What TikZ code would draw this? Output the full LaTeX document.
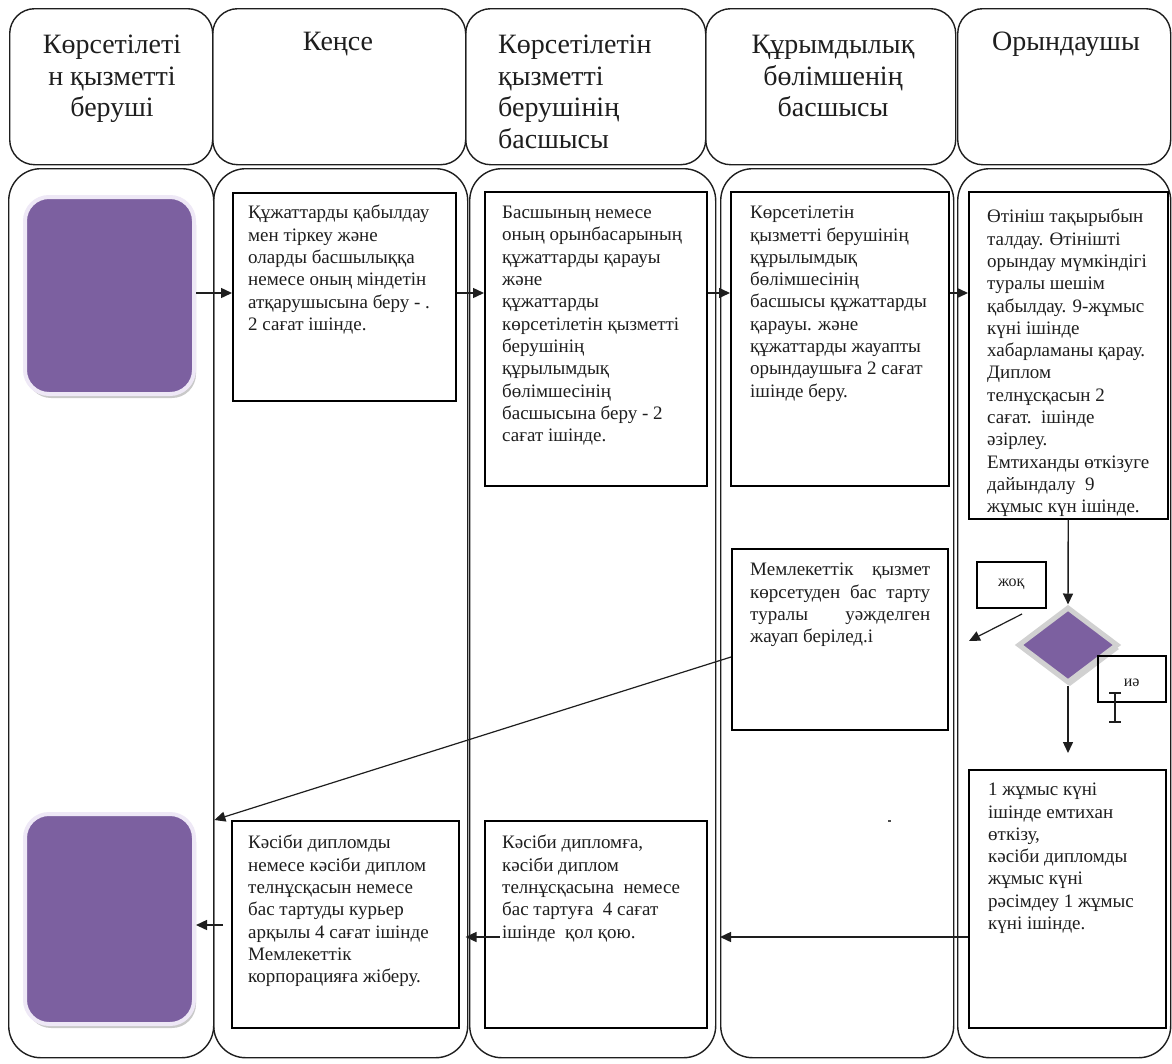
\documentclass[tikz,border=0pt]{standalone}
\usepackage{fontspec}
\setmainfont{Liberation Serif}
\usetikzlibrary{arrows.meta,shapes.geometric,shadows}
\definecolor{purp}{RGB}{124,96,160}
\definecolor{purpedge}{RGB}{238,232,246}
\definecolor{ink}{RGB}{30,30,30}
\begin{document}
\begin{tikzpicture}[x=1pt,y=-1pt,
  lane/.style={draw=ink, line width=1.4pt, rounded corners=32pt, anchor=north west, inner sep=0pt},
  hdr/.style={draw=ink, line width=1.4pt, rounded corners=25pt, anchor=north west, inner sep=0pt},
  stepbox/.style={draw=black, line width=1.5pt, anchor=north west, inner sep=0pt},
  pbox/.style={fill=purp, draw=purpedge, line width=4pt, rounded corners=24pt, anchor=north west, inner sep=0pt,
     drop shadow={shadow xshift=2pt, shadow yshift=-4pt, fill=black!35, opacity=0.6}},
  htxt/.style={font=\fontsize{28}{31.5}\selectfont, inner sep=0pt, anchor=north, text=ink},
  btxt/.style={font=\fontsize{19}{22.3}\selectfont, inner sep=0pt, anchor=north west, align=left, text=ink},
  small/.style={font=\fontsize{16}{18}\selectfont, inner sep=0pt, text=ink},
  arr/.style={-{Triangle[length=11pt,width=10pt]}, line width=1.4pt, draw=ink}
]
\useasboundingbox (0,0) rectangle (1172,1063);
\fill[white] (0,0) rectangle (1172,1063);

% headers
\node[hdr, minimum width=203pt, minimum height=156pt] (H1) at (9,8) {};
\node[hdr, minimum width=253pt, minimum height=156pt] (H2) at (212,8) {};
\node[hdr, minimum width=240pt, minimum height=156pt] (H3) at (465,8) {};
\node[hdr, minimum width=250pt, minimum height=156pt] (H4) at (705,8) {};
\node[hdr, minimum width=213pt, minimum height=156pt] (H5) at (957,8) {};

\node[htxt, align=center] (h1t) at (112,35) {Көрсетілеті\\н қызметті\\беруші};
\node[htxt, align=center] (h2t) at (338,32) {Кеңсе};
\node[htxt, align=left, anchor=north west] (h3t) at (498,35) {Көрсетілетін\\қызметті\\берушінің\\басшысы};
\node[htxt, align=center] (h4t) at (833,35) {Құрымдылық\\бөлімшенің\\басшысы};
\node[htxt, align=center] (h5t) at (1066,32) {Орындаушы};

% lanes
\node[lane, minimum width=205pt, minimum height=889pt] (L1) at (8,168) {};
\node[lane, minimum width=254pt, minimum height=889pt] (L2) at (213,168) {};
\node[lane, minimum width=246pt, minimum height=889pt] (L3) at (469,168) {};
\node[lane, minimum width=233pt, minimum height=889pt] (L4) at (720,168) {};
\node[lane, minimum width=213pt, minimum height=889pt] (L5) at (957,168) {};

% purple terminals
\node[pbox, minimum width=169pt, minimum height=197pt] (pk1) at (23,195) {};
\node[pbox, minimum width=169pt, minimum height=210pt] (pk2) at (23,812) {};

% process boxes
\node[stepbox, minimum width=223pt, minimum height=208pt] (b1) at (232,192) {};
\node[stepbox, minimum width=222pt, minimum height=294pt] (b2) at (484,191) {};
\node[stepbox, minimum width=218pt, minimum height=294pt] (b3) at (730,191) {};
\node[stepbox, minimum width=199pt, minimum height=327pt] (b4) at (968,191) {};
\node[stepbox, minimum width=216pt, minimum height=181pt] (b5) at (731,548) {};
\node[stepbox, minimum width=227pt, minimum height=207pt] (b6) at (231,820) {};
\node[stepbox, minimum width=222pt, minimum height=207pt] (b7) at (484,820) {};
\node[stepbox, minimum width=197pt, minimum height=258pt] (b8) at (968,769) {};

\node[btxt] (t1) at (248,205) {Құжаттарды қабылдау\\мен тіркеу және\\оларды басшылыққа\\немесе оның міндетін\\атқарушысына беру - .\\2 сағат ішінде.};
\node[btxt] (t2) at (502,206) {Басшының немесе\\оның орынбасарының\\құжаттарды қарауы\\және\\құжаттарды\\көрсетілетін қызметті\\берушінің\\құрылымдық\\бөлімшесінің\\басшысына беру - 2\\сағат ішінде.};
\node[btxt] (t3) at (750,206) {Көрсетілетін\\қызметті берушінің\\құрылымдық\\бөлімшесінің\\басшысы құжаттарды\\қарауы. және\\құжаттарды жауапты\\орындаушыға 2 сағат\\ішінде беру.};
\node[btxt] (t4) at (987,209) {Өтініш тақырыбын\\талдау. Өтінішті\\орындау мүмкіндігі\\туралы шешім\\қабылдау. 9-жұмыс\\күні ішінде\\хабарламаны қарау.\\Диплом\\телнұсқасын 2\\сағат.\ \ ішінде\\әзірлеу.\\Емтиханды өткізуге\\дайындалу\ \ 9\\жұмыс күн ішінде.};
\node[btxt] (t5) at (750,563) {\makebox[180pt][s]{Мемлекеттік қызмет}\\\makebox[180pt][s]{көрсетуден бас тарту}\\\makebox[180pt][s]{туралы уәжделген}\\жауап берілед.і};
\node[btxt] (t6) at (248,835) {Кәсіби дипломды\\немесе кәсіби диплом\\телнұсқасын немесе\\бас тартуды курьер\\арқылы 4 сағат ішінде\\Мемлекеттік\\корпорацияға жіберу.};
\node[btxt] (t7) at (502,835) {Кәсіби дипломға,\\кәсіби диплом\\телнұсқасына\ \ немесе\\бас тартуға\ \ 4 сағат\\ішінде\ \ қол қою.};
\node[btxt] (t8) at (988,783) {1 жұмыс күні\\ішінде емтихан\\өткізу,\\кәсіби дипломды\\жұмыс күні\\рәсімдеу 1 жұмыс\\күні ішінде.};

% decision
\node[diamond, fill=purp, draw=black!18, line width=5pt, minimum width=100pt, minimum height=76pt, inner sep=0pt,
  drop shadow={shadow xshift=2pt, shadow yshift=-4pt, fill=black!35, opacity=0.5}] (dia) at (1068,645) {};
\node[stepbox, minimum width=69pt, minimum height=46pt] (nobox) at (976,561) {};
\node[small] (not) at (nobox.center) {жоқ};
\node[stepbox, minimum width=68pt, minimum height=46pt] (yesbox) at (1097,655) {};
\node[small] (yest) at ([yshift=-4pt]yesbox.center) {иә};

% connectors
\draw[arr] (pk1.east |- 0,293) -- (b1.west |- 0,293);
\draw[arr] (b1.east |- 0,293) -- (b2.west |- 0,293);
\draw[arr] (b2.east |- 0,293) -- (b3.west |- 0,293);
\draw[arr] (b3.east |- 0,293) -- (b4.west |- 0,293);
\draw[arr] (b4.south) -- (dia.north);
\draw[arr, shorten >=16pt] (dia.south) -- (dia.south |- b8.north);
\coordinate (nos) at (1022,614);
\coordinate (noe) at (969,641);
\draw[arr, line width=1.2pt] (nos) -- (noe);
\draw[arr, line width=1.2pt] (b5.west |- 0,657) -- (L1.east |- 0,820);
\draw[arr] (b8.west |- 0,937) -- (L4.west |- 0,937);
\draw[arr, shorten <=-16pt, shorten >=6pt] (b7.west |- 0,937) -- (b6.east |- 0,937);
\draw[arr, shorten <=8pt] (b6.west |- 0,925) -- (pk2.east |- 0,925);

% small marks
\node[fill=black!70, inner sep=0pt, minimum width=3pt, minimum height=2pt] (dot) at (889,821) {};
\draw[line width=1.2pt, ink] (1115,693) -- (1115,722) (1109,693) -- (1121,693) (1109,722) -- (1121,722);
\end{tikzpicture}
\end{document}
